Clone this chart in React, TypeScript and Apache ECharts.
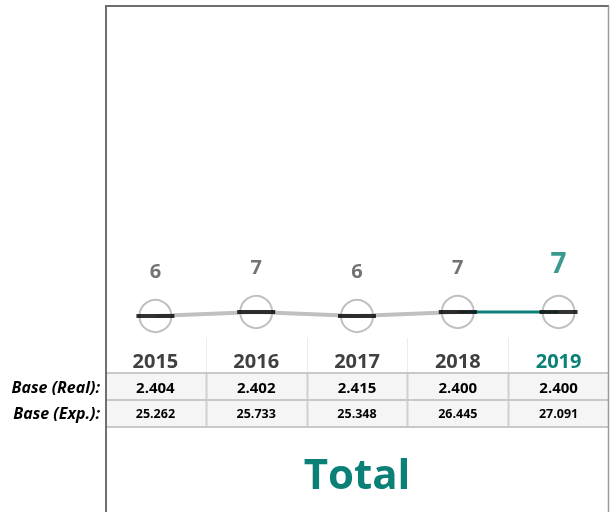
import React, { useEffect, useRef } from "react";
import * as echarts from "echarts";

const years = ["2015", "2016", "2017", "2018", "2019"];
const values = [6, 7, 6, 7, 7];
const baseReal = ["2.404", "2.402", "2.415", "2.400", "2.400"];
const baseExp = ["25.262", "25.733", "25.348", "26.445", "27.091"];
const rowLabels = ["Base (Real):", "Base (Exp.):"];
const title = "Total";

const TEAL = "#0b8076";
const FONT = "'Open Sans', 'Noto Sans', sans-serif";

export default function App() {
  const ref = useRef<HTMLDivElement>(null);
  useEffect(() => {
    if (!ref.current) return;
    const chart = echarts.init(ref.current, null, { renderer: "svg" });
    const last = values.length - 1;
    const grayData = values.map((v, i) => (i < last ? v : "-"));
    const tealData = values.map((v, i) => (i >= last - 1 ? v : "-"));
    const barData = values.map((v, i) =>
      i === last
        ? { value: v, label: { fontSize: 28, color: TEAL } }
        : { value: v }
    );
    const yearStyle = {
      fontFamily: FONT,
      fontWeight: "bold",
      fontSize: 20,
      verticalAlign: "middle",
    };
    const yearData = years.map((y, i) =>
      i === last
        ? { value: y, textStyle: { ...yearStyle, color: TEAL } }
        : { value: y, textStyle: { ...yearStyle, color: "#404040" } }
    );

    const left = 105;
    const right = 609;
    const colW = (right - left) / years.length;
    const seps: any[] = [];
    for (let i = 1; i < years.length; i++) {
      const x = Math.round(left + colW * i) + 0.5;
      seps.push({
        type: "line",
        shape: { x1: x, y1: 338, x2: x, y2: 373 },
        style: { stroke: "#ececec", lineWidth: 1 },
        silent: true,
      });
      seps.push({
        type: "line",
        shape: { x1: x, y1: 373, x2: x, y2: 427 },
        style: { stroke: "#cfcfcf", lineWidth: 2 },
        silent: true,
      });
    }

    const rowText = (txt: string, y: number) => ({
      type: "text",
      x: 100,
      y,
      style: {
        text: txt,
        align: "right",
        verticalAlign: "middle",
        font: `italic bold 16px ${FONT}`,
        fill: "#000",
      },
    });

    chart.setOption({
      animation: false,
      grid: { left: 105, right: 1, top: 6, bottom: 172 },
      xAxis: [
        {
          type: "category",
          data: yearData,
          boundaryGap: true,
          axisLine: { show: false },
          axisTick: { show: false },
          axisLabel: {
            margin: 20,
            verticalAlign: "middle",
            fontFamily: FONT,
            fontWeight: "bold",
            fontSize: 20,
            color: "#404040",
          },
        },
        {
          type: "category",
          data: baseReal,
          position: "bottom",
          boundaryGap: true,
          axisLine: { show: false },
          axisTick: { show: false },
          axisLabel: {
            margin: 47,
            verticalAlign: "middle",
            fontFamily: FONT,
            fontWeight: "bold",
            fontSize: 15,
            color: "#000",
          },
        },
        {
          type: "category",
          data: baseExp,
          position: "bottom",
          boundaryGap: true,
          axisLine: { show: false },
          axisTick: { show: false },
          axisLabel: {
            margin: 73,
            verticalAlign: "middle",
            fontFamily: FONT,
            fontWeight: "bold",
            fontSize: 12.5,
            color: "#000",
          },
        },
      ],
      yAxis: { type: "value", min: 0, max: 83.5, show: false },
      graphic: [
        {
          type: "rect",
          shape: { x: 105, y: 373, width: 504, height: 54 },
          style: { fill: "#f5f5f5" },
          z: -10,
          silent: true,
        },
        ...seps,
        {
          type: "line",
          shape: { x1: 105, y1: 373, x2: 609, y2: 373 },
          style: { stroke: "#c8c8c8", lineWidth: 2 },
          silent: true,
        },
        {
          type: "line",
          shape: { x1: 105, y1: 400, x2: 609, y2: 400 },
          style: { stroke: "#c8c8c8", lineWidth: 2 },
          silent: true,
        },
        {
          type: "line",
          shape: { x1: 105, y1: 427, x2: 609, y2: 427 },
          style: { stroke: "#c8c8c8", lineWidth: 2 },
          silent: true,
        },
        {
          type: "line",
          shape: { x1: 106, y1: 6, x2: 106, y2: 512 },
          style: { stroke: "#6e6e6e", lineWidth: 2 },
          silent: true,
        },
        {
          type: "line",
          shape: { x1: 105, y1: 6, x2: 609, y2: 6 },
          style: { stroke: "#6e6e6e", lineWidth: 2 },
          silent: true,
        },
        {
          type: "line",
          shape: { x1: 608.5, y1: 6, x2: 608.5, y2: 512 },
          style: { stroke: "#9a9a9a", lineWidth: 1.5 },
          silent: true,
        },
        rowText(rowLabels[0], 387),
        rowText(rowLabels[1], 413),
        {
          type: "text",
          x: 357,
          y: 472,
          style: {
            text: title,
            align: "center",
            verticalAlign: "middle",
            font: `bold 42px ${FONT}`,
            fill: TEAL,
          },
        },
      ],
      series: [
        {
          type: "line",
          data: grayData,
          symbol: "none",
          lineStyle: { color: "#c0c0c0", width: 4 },
          z: 2,
        },
        {
          type: "line",
          data: tealData,
          symbol: "none",
          lineStyle: { color: TEAL, width: 3 },
          z: 3,
        },
        {
          type: "scatter",
          data: values,
          symbol: "circle",
          symbolSize: 32,
          itemStyle: {
            color: "rgba(255,255,255,0.55)",
            borderColor: "#b0b0b0",
            borderWidth: 2,
          },
          z: 4,
        },
        {
          type: "scatter",
          data: barData,
          symbol: "rect",
          symbolSize: [38, 4],
          itemStyle: { color: "#000" },
          label: {
            show: true,
            position: "top",
            distance: 34,
            fontFamily: FONT,
            fontWeight: "bold",
            fontSize: 20,
            color: "#505050",
          },
          z: 5,
        },
      ],
    });
    return () => chart.dispose();
  }, []);
  return (
    <div
      ref={ref}
      style={{ position: "fixed", left: 0, top: 0, width: 610, height: 512 }}
    />
  );
}
